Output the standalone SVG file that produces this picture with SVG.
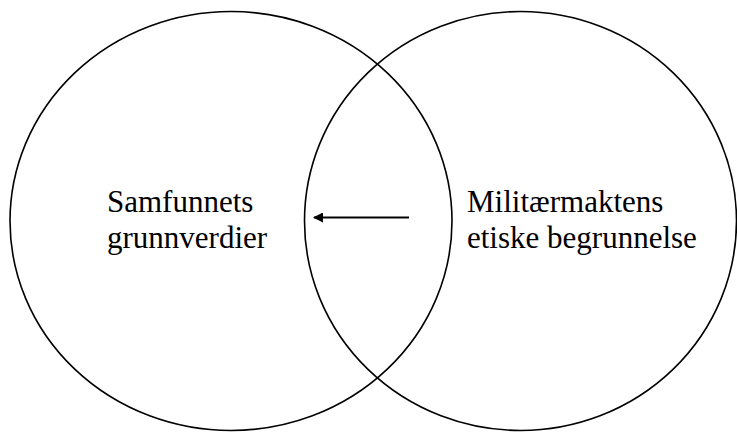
<svg xmlns="http://www.w3.org/2000/svg" width="737" height="432" viewBox="0 0 737 432">
<style>
.c{fill:none;stroke:#000;stroke-width:1.6}
.t{font-family:"Liberation Serif","Times New Roman",serif;font-size:31px;fill:#000}
</style>
<defs>
<marker id="ah" markerWidth="10" markerHeight="10" refX="9" refY="5" orient="auto" markerUnits="userSpaceOnUse">
<path d="M0,0 L10,5 L0,10 Z" fill="#000"/>
</marker>
</defs>
<rect width="737" height="432" fill="#fff"/>
<g id="samfunn">
<ellipse class="c" cx="231" cy="221" rx="221" ry="209.5"/>
<text class="t" x="107" y="212">Samfunnets</text>
<text class="t" x="107" y="248">grunnverdier</text>
</g>
<g id="militar">
<ellipse class="c" cx="520.5" cy="221" rx="216" ry="209.5"/>
<text class="t" x="467" y="212">Militærmaktens</text>
<text class="t" x="467" y="248">etiske begrunnelse</text>
</g>
<g id="connectors">
<line x1="409" y1="217.5" x2="314" y2="217.5" stroke="#000" stroke-width="2.2" marker-end="url(#ah)"/>
</g>
</svg>
